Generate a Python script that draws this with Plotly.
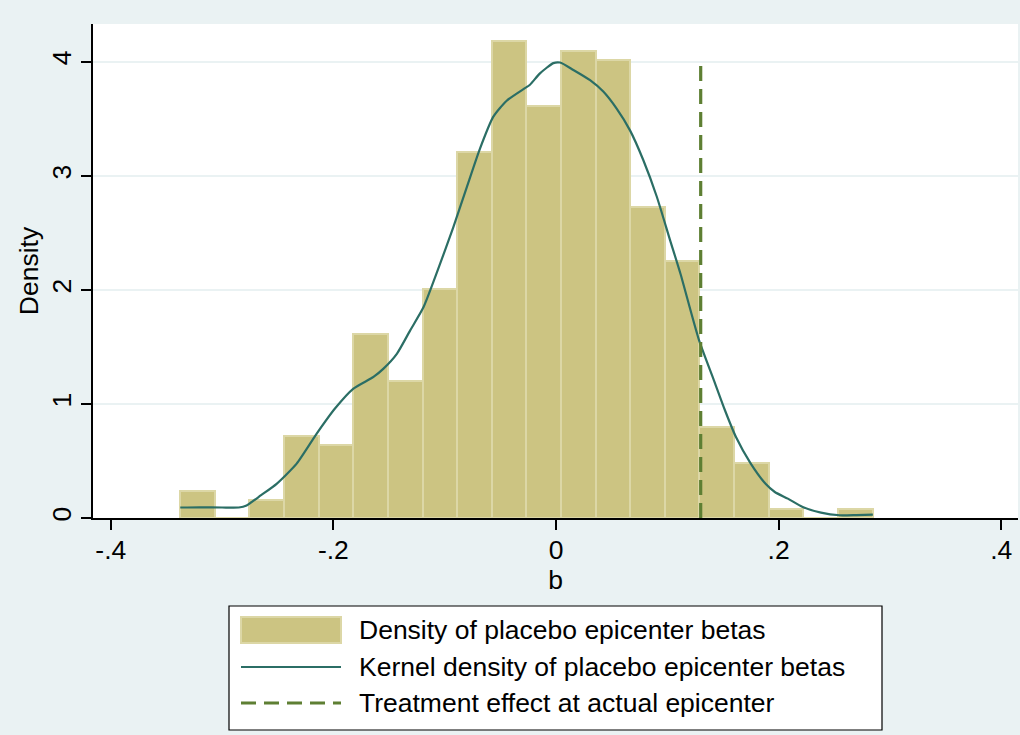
import plotly.graph_objects as go

# ---------------- data ----------------
bin_start = -0.3376
bin_width = 0.0311
hist_density = [0.24, 0.0, 0.16, 0.72, 0.64, 1.61, 1.20, 2.01, 3.21, 4.18,
                3.61, 4.10, 4.02, 2.73, 2.25, 0.80, 0.48, 0.08, 0.0, 0.08]

kde_x = [-0.3376, -0.32, -0.30, -0.285, -0.278, -0.265, -0.251, -0.233, -0.215,
         -0.1986, -0.182, -0.164, -0.155, -0.143, -0.131, -0.119, -0.106, -0.0923,
         -0.0802, -0.0683, -0.0563, -0.0443, -0.0279, -0.0234, -0.0144, -0.0024,
         0.0036, 0.0156, 0.0306, 0.0425, 0.0545, 0.0665, 0.0784, 0.0905, 0.1024,
         0.1119, 0.1285, 0.1418, 0.1518, 0.1617, 0.175, 0.1883, 0.1966, 0.2083,
         0.2216, 0.2381, 0.2548, 0.2700, 0.2847]
kde_y = [0.092, 0.094, 0.092, 0.092, 0.11, 0.20, 0.30, 0.477, 0.74,
         0.96, 1.135, 1.237, 1.31, 1.44, 1.646, 1.85, 2.18, 2.55,
         2.90, 3.24, 3.52, 3.66, 3.77, 3.80, 3.90, 3.99,
         3.995, 3.93, 3.84, 3.74, 3.59, 3.40, 3.14, 2.82, 2.44,
         2.14, 1.56, 1.21, 0.945, 0.71, 0.477, 0.30, 0.228, 0.17,
         0.097, 0.047, 0.024, 0.026, 0.03]

treatment_effect = 0.13
treatment_line_y = [0, 4.0]

x_tick_vals = [-0.4, -0.2, 0, 0.2, 0.4]
x_tick_text = ["-.4", "-.2", "0", ".2", ".4"]
y_tick_vals = [0, 1, 2, 3, 4]
y_tick_text = ["0", "1", "2", "3", "4"]

legend_labels = ["Density of placebo epicenter betas",
                 "Kernel density of placebo epicenter betas",
                 "Treatment effect at actual epicenter"]

# ---------------- style ----------------
BG = "#EAF2F3"
BAR_FILL = "#CCC482"
BAR_EDGE = "#DCD7A6"
KDE_COLOR = "#2B6E65"
DASH_COLOR = "#5E7F33"
FONT = "Liberation Sans, Arial, Helvetica, sans-serif"
FS = 26.5

W, H = 1020, 735
ML, MR, MT, MB = 93, 2, 24, 217
PW, PH = W - ML - MR, H - MT - MB


def px_x(px):
    return (px - ML) / PW


def px_y(py):
    return (H - MB - py) / PH


bin_centers = [bin_start + bin_width * (i + 0.5) for i in range(len(hist_density))]

fig = go.Figure()
fig.add_trace(go.Bar(
    x=bin_centers, y=hist_density, width=[bin_width] * len(hist_density),
    marker=dict(color=BAR_FILL, line=dict(color=BAR_EDGE, width=2)),
    name=legend_labels[0], showlegend=False,
))
fig.add_trace(go.Scatter(
    x=kde_x, y=kde_y, mode="lines",
    line=dict(color=KDE_COLOR, width=2.2, shape="spline", smoothing=0.6),
    name=legend_labels[1], showlegend=False,
))
fig.add_trace(go.Scatter(
    x=[treatment_effect, treatment_effect], y=treatment_line_y, mode="lines",
    line=dict(color=DASH_COLOR, width=3.2, dash="15px,8px"),
    name=legend_labels[2], showlegend=False,
))

fig.update_layout(
    width=W, height=H,
    margin=dict(l=ML, r=MR, t=MT, b=MB, pad=0),
    paper_bgcolor=BG, plot_bgcolor="white",
    font=dict(family=FONT, size=FS, color="black"),
    bargap=0,
    xaxis=dict(
        range=[-0.416, 0.4151], tickvals=x_tick_vals, ticktext=x_tick_text,
        ticks="outside", ticklen=10, tickwidth=1.5, tickcolor="black",
        showline=True, linecolor="black", linewidth=1.5,
        showgrid=False, zeroline=False,
        tickfont=dict(size=FS), ticklabelstandoff=-3,
        title=dict(text="b", font=dict(size=FS), standoff=0),
    ),
    yaxis=dict(
        range=[0, 4.333], tickvals=y_tick_vals, ticktext=y_tick_text,
        ticks="outside", ticklen=10, tickwidth=1.5, tickcolor="black",
        tickangle=-90,
        showline=True, linecolor="black", linewidth=1.5,
        showgrid=True, gridcolor=BG, gridwidth=2, zeroline=False,
        tickfont=dict(size=FS), ticklabelstandoff=0,
        title=dict(text="Density", font=dict(size=FS), standoff=0),
    ),
)

# manual legend (Stata-style)
shapes = []
annotations = []
shapes.append(dict(type="rect", xref="paper", yref="paper",
                   x0=px_x(229), x1=px_x(882), y0=px_y(730), y1=px_y(606),
                   fillcolor="white", line=dict(color="black", width=1.2), layer="above"))
sym_x0, sym_x1 = px_x(241), px_x(341)
row_y = [630, 667, 703]
shapes.append(dict(type="rect", xref="paper", yref="paper",
                   x0=sym_x0, x1=sym_x1, y0=px_y(643), y1=px_y(617),
                   fillcolor=BAR_FILL, line=dict(color=BAR_EDGE, width=2), layer="above"))
shapes.append(dict(type="line", xref="paper", yref="paper",
                   x0=sym_x0, x1=sym_x1, y0=px_y(row_y[1]), y1=px_y(row_y[1]),
                   line=dict(color=KDE_COLOR, width=2.2), layer="above"))
shapes.append(dict(type="line", xref="paper", yref="paper",
                   x0=sym_x0, x1=sym_x1, y0=px_y(row_y[2]), y1=px_y(row_y[2]),
                   line=dict(color=DASH_COLOR, width=3.2, dash="15px,8px"), layer="above"))
for lbl, ry in zip(legend_labels, row_y):
    annotations.append(dict(xref="paper", yref="paper", x=px_x(357), y=px_y(ry),
                            text=lbl, showarrow=False, xanchor="left", yanchor="middle",
                            font=dict(size=FS, color="black", family=FONT)))
fig.update_layout(shapes=shapes, annotations=annotations)

fig.write_html("out.html")
